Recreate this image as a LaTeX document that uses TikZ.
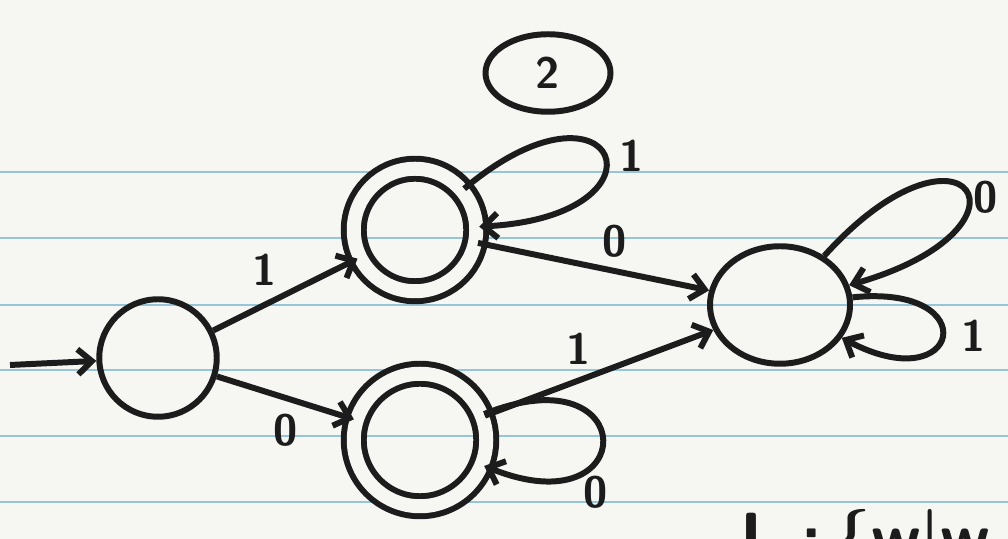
\documentclass[tikz,border=0pt]{standalone}
\usepackage{tikz}
\usetikzlibrary{arrows.meta, shapes.geometric}
\definecolor{paper}{RGB}{246,246,243}
\definecolor{rule}{RGB}{150,196,216}
\definecolor{ink}{RGB}{28,28,28}

\begin{document}
\begin{tikzpicture}[
    dfastate/.style={draw=ink, circle, line width=3.4pt, minimum size=2.35cm},
    accstate/.style={dfastate, double=paper, double distance=0.28cm},
    trans/.style={-{Straight Barb[length=2.8mm,width=5mm]}, draw=ink, line width=3.4pt},
    lbl/.style={font=\fontsize{25}{28}\selectfont\sffamily\bfseries, text=ink},
]
  \useasboundingbox (0,0) rectangle (20.16,10.78);
  \clip (0,0) rectangle (20.16,10.78);
  \fill[paper] (0,0) rectangle (20.16,10.78);
  % ruled paper
  \foreach \y in {7.34, 6.02, 4.68, 3.38, 2.06, 0.74}
    \draw[rule, line width=0.8pt] (0,\y) -- (20.16,\y);

  \node[draw=ink, ellipse, line width=3.4pt, minimum width=2.5cm, minimum height=1.55cm, lbl] (qnum) at (10.96, 9.32) {2};

  \node[dfastate] (q0) at (3.16, 3.62) {};
  \node[accstate, minimum size=2.45cm] (q1) at (8.30, 6.18) {};
  \node[accstate, minimum size=2.65cm] (q2) at (8.40, 1.98) {};
  \node[dfastate, ellipse, minimum width=2.8cm, minimum height=2.35cm] (q3) at (15.60, 4.68) {};
  \coordinate (entry) at (0.20, 3.48);

  \draw[trans] (entry) -- (q0);
  \draw[trans] (q0) -- node[midway, above left, lbl] {1} (q1);
  \draw[trans] (q0) -- node[midway, below, lbl, yshift=-4pt] {0} (q2);
  \draw[trans] (q1) -- node[midway, above, lbl, xshift=12pt] {0} (q3);
  \draw[trans] (q2) -- node[midway, above left, lbl] {1} (q3);

  % self loops
  \draw[trans] (q1) to[out=40, in=3, distance=4cm] node[pos=0.5, right, lbl, xshift=4pt] {1} (q1);
  \draw[trans] (q2) to[out=22, in=-22, distance=3.4cm] node[pos=0.62, below, lbl, yshift=-4pt] {0} (q2);
  \draw[trans] (q3) to[out=48, in=16, distance=4.2cm] node[pos=0.5, right, lbl, yshift=-4pt] {0} (q3);
  \draw[trans] (q3) to[out=6, in=-28, distance=2.7cm] node[pos=0.5, right, lbl, xshift=6pt] {1} (q3);

  \node[anchor=base west, font=\fontsize{38}{44}\selectfont\sffamily\bfseries, text=ink, inner sep=0pt] (lang) at (14.8, -0.42) {L\,\,:\,\{w\hspace{-1pt}|w};
\end{tikzpicture}
\end{document}
